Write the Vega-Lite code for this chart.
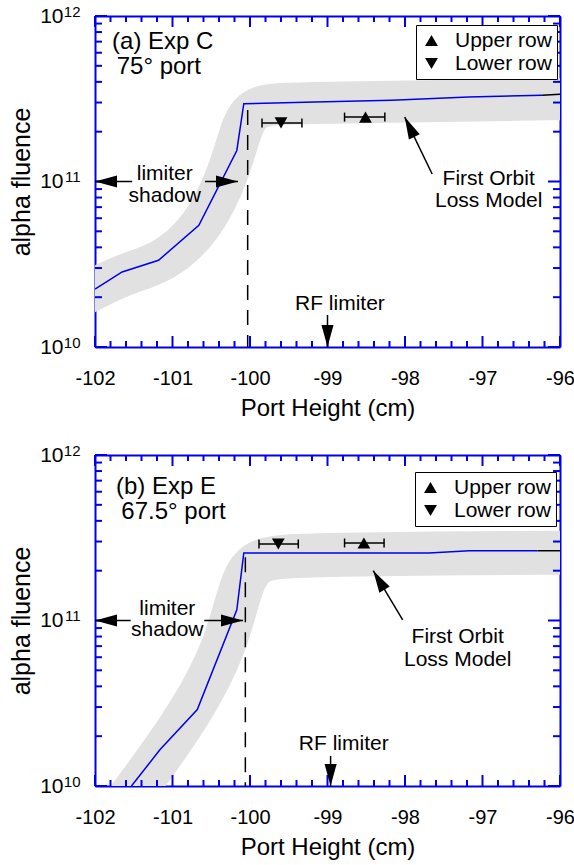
{
  "$schema": "https://vega.github.io/schema/vega-lite/v6.json",
  "padding": {"left": 9, "top": 4, "right": 4, "bottom": 4},
  "bounds": "flush",
  "spacing": 108,
  "resolve": {"scale": {"shape": "independent"}, "legend": {"shape": "independent"}},
  "datasets": {
    "ticks": [
      {"x": -102, "x2": -102, "v": 1e10, "v2": 1.165e10}, {"x": -101, "x2": -101, "v": 1e10, "v2": 1.165e10}, {"x": -100, "x2": -100, "v": 1e10, "v2": 1.165e10}, {"x": -99, "x2": -99, "v": 1e10, "v2": 1.165e10}, {"x": -98, "x2": -98, "v": 1e10, "v2": 1.165e10}, {"x": -97, "x2": -97, "v": 1e10, "v2": 1.165e10}, {"x": -96, "x2": -96, "v": 1e10, "v2": 1.165e10},
      {"x": -101.8, "x2": -101.8, "v": 1e10, "v2": 1.087e10}, {"x": -101.6, "x2": -101.6, "v": 1e10, "v2": 1.087e10}, {"x": -101.4, "x2": -101.4, "v": 1e10, "v2": 1.087e10}, {"x": -101.2, "x2": -101.2, "v": 1e10, "v2": 1.087e10},
      {"x": -100.8, "x2": -100.8, "v": 1e10, "v2": 1.087e10}, {"x": -100.6, "x2": -100.6, "v": 1e10, "v2": 1.087e10}, {"x": -100.4, "x2": -100.4, "v": 1e10, "v2": 1.087e10}, {"x": -100.2, "x2": -100.2, "v": 1e10, "v2": 1.087e10},
      {"x": -99.8, "x2": -99.8, "v": 1e10, "v2": 1.087e10}, {"x": -99.6, "x2": -99.6, "v": 1e10, "v2": 1.087e10}, {"x": -99.4, "x2": -99.4, "v": 1e10, "v2": 1.087e10}, {"x": -99.2, "x2": -99.2, "v": 1e10, "v2": 1.087e10},
      {"x": -98.8, "x2": -98.8, "v": 1e10, "v2": 1.087e10}, {"x": -98.6, "x2": -98.6, "v": 1e10, "v2": 1.087e10}, {"x": -98.4, "x2": -98.4, "v": 1e10, "v2": 1.087e10}, {"x": -98.2, "x2": -98.2, "v": 1e10, "v2": 1.087e10},
      {"x": -97.8, "x2": -97.8, "v": 1e10, "v2": 1.087e10}, {"x": -97.6, "x2": -97.6, "v": 1e10, "v2": 1.087e10}, {"x": -97.4, "x2": -97.4, "v": 1e10, "v2": 1.087e10}, {"x": -97.2, "x2": -97.2, "v": 1e10, "v2": 1.087e10},
      {"x": -96.8, "x2": -96.8, "v": 1e10, "v2": 1.087e10}, {"x": -96.6, "x2": -96.6, "v": 1e10, "v2": 1.087e10}, {"x": -96.4, "x2": -96.4, "v": 1e10, "v2": 1.087e10}, {"x": -96.2, "x2": -96.2, "v": 1e10, "v2": 1.087e10},
      {"x": -102, "x2": -102, "v": 1e12, "v2": 8.58e11}, {"x": -101, "x2": -101, "v": 1e12, "v2": 8.58e11}, {"x": -100, "x2": -100, "v": 1e12, "v2": 8.58e11}, {"x": -99, "x2": -99, "v": 1e12, "v2": 8.58e11}, {"x": -98, "x2": -98, "v": 1e12, "v2": 8.58e11}, {"x": -97, "x2": -97, "v": 1e12, "v2": 8.58e11}, {"x": -96, "x2": -96, "v": 1e12, "v2": 8.58e11},
      {"x": -101.8, "x2": -101.8, "v": 1e12, "v2": 9.2e11}, {"x": -101.6, "x2": -101.6, "v": 1e12, "v2": 9.2e11}, {"x": -101.4, "x2": -101.4, "v": 1e12, "v2": 9.2e11}, {"x": -101.2, "x2": -101.2, "v": 1e12, "v2": 9.2e11},
      {"x": -100.8, "x2": -100.8, "v": 1e12, "v2": 9.2e11}, {"x": -100.6, "x2": -100.6, "v": 1e12, "v2": 9.2e11}, {"x": -100.4, "x2": -100.4, "v": 1e12, "v2": 9.2e11}, {"x": -100.2, "x2": -100.2, "v": 1e12, "v2": 9.2e11},
      {"x": -99.8, "x2": -99.8, "v": 1e12, "v2": 9.2e11}, {"x": -99.6, "x2": -99.6, "v": 1e12, "v2": 9.2e11}, {"x": -99.4, "x2": -99.4, "v": 1e12, "v2": 9.2e11}, {"x": -99.2, "x2": -99.2, "v": 1e12, "v2": 9.2e11},
      {"x": -98.8, "x2": -98.8, "v": 1e12, "v2": 9.2e11}, {"x": -98.6, "x2": -98.6, "v": 1e12, "v2": 9.2e11}, {"x": -98.4, "x2": -98.4, "v": 1e12, "v2": 9.2e11}, {"x": -98.2, "x2": -98.2, "v": 1e12, "v2": 9.2e11},
      {"x": -97.8, "x2": -97.8, "v": 1e12, "v2": 9.2e11}, {"x": -97.6, "x2": -97.6, "v": 1e12, "v2": 9.2e11}, {"x": -97.4, "x2": -97.4, "v": 1e12, "v2": 9.2e11}, {"x": -97.2, "x2": -97.2, "v": 1e12, "v2": 9.2e11},
      {"x": -96.8, "x2": -96.8, "v": 1e12, "v2": 9.2e11}, {"x": -96.6, "x2": -96.6, "v": 1e12, "v2": 9.2e11}, {"x": -96.4, "x2": -96.4, "v": 1e12, "v2": 9.2e11}, {"x": -96.2, "x2": -96.2, "v": 1e12, "v2": 9.2e11},
      {"x": -102, "x2": -101.845, "v": 1e10, "v2": 1e10}, {"x": -102, "x2": -101.845, "v": 1e11, "v2": 1e11}, {"x": -102, "x2": -101.845, "v": 1e12, "v2": 1e12},
      {"x": -102, "x2": -101.91, "v": 2e10, "v2": 2e10}, {"x": -102, "x2": -101.91, "v": 3e10, "v2": 3e10}, {"x": -102, "x2": -101.91, "v": 4e10, "v2": 4e10}, {"x": -102, "x2": -101.91, "v": 5e10, "v2": 5e10},
      {"x": -102, "x2": -101.91, "v": 6e10, "v2": 6e10}, {"x": -102, "x2": -101.91, "v": 7e10, "v2": 7e10}, {"x": -102, "x2": -101.91, "v": 8e10, "v2": 8e10}, {"x": -102, "x2": -101.91, "v": 9e10, "v2": 9e10},
      {"x": -102, "x2": -101.91, "v": 2e11, "v2": 2e11}, {"x": -102, "x2": -101.91, "v": 3e11, "v2": 3e11}, {"x": -102, "x2": -101.91, "v": 4e11, "v2": 4e11}, {"x": -102, "x2": -101.91, "v": 5e11, "v2": 5e11},
      {"x": -102, "x2": -101.91, "v": 6e11, "v2": 6e11}, {"x": -102, "x2": -101.91, "v": 7e11, "v2": 7e11}, {"x": -102, "x2": -101.91, "v": 8e11, "v2": 8e11}, {"x": -102, "x2": -101.91, "v": 9e11, "v2": 9e11},
      {"x": -96, "x2": -96.155, "v": 1e10, "v2": 1e10}, {"x": -96, "x2": -96.155, "v": 1e11, "v2": 1e11}, {"x": -96, "x2": -96.155, "v": 1e12, "v2": 1e12},
      {"x": -96, "x2": -96.09, "v": 2e10, "v2": 2e10}, {"x": -96, "x2": -96.09, "v": 3e10, "v2": 3e10}, {"x": -96, "x2": -96.09, "v": 4e10, "v2": 4e10}, {"x": -96, "x2": -96.09, "v": 5e10, "v2": 5e10},
      {"x": -96, "x2": -96.09, "v": 6e10, "v2": 6e10}, {"x": -96, "x2": -96.09, "v": 7e10, "v2": 7e10}, {"x": -96, "x2": -96.09, "v": 8e10, "v2": 8e10}, {"x": -96, "x2": -96.09, "v": 9e10, "v2": 9e10},
      {"x": -96, "x2": -96.09, "v": 2e11, "v2": 2e11}, {"x": -96, "x2": -96.09, "v": 3e11, "v2": 3e11}, {"x": -96, "x2": -96.09, "v": 4e11, "v2": 4e11}, {"x": -96, "x2": -96.09, "v": 5e11, "v2": 5e11},
      {"x": -96, "x2": -96.09, "v": 6e11, "v2": 6e11}, {"x": -96, "x2": -96.09, "v": 7e11, "v2": 7e11}, {"x": -96, "x2": -96.09, "v": 8e11, "v2": 8e11}, {"x": -96, "x2": -96.09, "v": 9e11, "v2": 9e11}
    ],
    "bandA": [
      {"x": -102.3, "v": 1.9e10}, {"x": -101.65, "v": 2.76e10}, {"x": -101.14, "v": 3.17e10},
      {"x": -100.62, "v": 5.09e10}, {"x": -100.26, "v": 1.14e11}, {"x": -100.10, "v": 2.29e11},
      {"x": -99.91, "v": 2.94e11}, {"x": -99.33, "v": 2.98e11}, {"x": -95.5, "v": 3.17e11}
    ],
    "lineA": [
      {"x": -102.0, "v": 2.24e10}, {"x": -101.65, "v": 2.84e10}, {"x": -101.18, "v": 3.34e10},
      {"x": -100.66, "v": 5.44e10}, {"x": -100.17, "v": 1.54e11}, {"x": -100.08, "v": 2.95e11},
      {"x": -99.16, "v": 3.02e11}, {"x": -98.17, "v": 3.10e11}, {"x": -97.18, "v": 3.24e11},
      {"x": -96.23, "v": 3.32e11}
    ],
    "endA": [{"x": -96.23, "v": 3.32e11}, {"x": -96.0, "v": 3.37e11}],
    "dashA": [{"x": -100.03, "v": 2.7e11, "v2": 1e10}],
    "ptsA": [
      {"row": "Upper row", "x": -98.51, "lo": -98.78, "hi": -98.26, "v": 2.45e11},
      {"row": "Lower row", "x": -99.60, "lo": -99.845, "hi": -99.33, "v": 2.26e11}
    ],
    "labA": [
      {"x": -101.78, "v": 6.31e11, "t": "(a) Exp C"},
      {"x": -101.72, "v": 4.46e11, "t": "75° port"}
    ],
    "annA": [
      {"x": -101.10, "v": 1.02e11, "t": "limiter"},
      {"x": -101.10, "v": 7.52e10, "t": "shadow"},
      {"x": -98.84, "v": 1.67e10, "t": "RF limiter"},
      {"x": -96.92, "v": 9.57e10, "t": "First Orbit"},
      {"x": -96.92, "v": 7.05e10, "t": "Loss Model"}
    ],
    "arrA": [
      {"x": -102.0, "v": 1e11, "x2": -101.52, "v2": 1e11, "ang": 270},
      {"x": -100.155, "v": 1e11, "x2": -100.58, "v2": 1e11, "ang": 90},
      {"x": -99.0, "v": 1e10, "x2": -99.0, "v2": 1.56e10, "ang": 180},
      {"x": -98.004, "v": 2.45e11, "x2": -97.65, "v2": 1.11e11, "ang": 334}
    ],
    "bandB": [
      {"x": -101.8, "v": 6.0e9}, {"x": -101.6, "v": 7.9e9}, {"x": -100.72, "v": 2.89e10},
      {"x": -100.297, "v": 7.36e10}, {"x": -100.13, "v": 1.58e11}, {"x": -99.95, "v": 2.38e11},
      {"x": -99.37, "v": 2.51e11}, {"x": -95.5, "v": 2.58e11}
    ],
    "lineB": [
      {"x": -101.53, "v": 1.0e10}, {"x": -101.16, "v": 1.66e10}, {"x": -100.68, "v": 2.9e10},
      {"x": -100.17, "v": 1.16e11}, {"x": -100.08, "v": 2.56e11}, {"x": -97.69, "v": 2.56e11},
      {"x": -97.17, "v": 2.64e11}, {"x": -96.29, "v": 2.64e11}
    ],
    "endB": [{"x": -96.29, "v": 2.64e11}, {"x": -96.0, "v": 2.64e11}],
    "dashB": [{"x": -100.06, "v": 2.41e11, "v2": 1e10}],
    "ptsB": [
      {"row": "Upper row", "x": -98.53, "lo": -98.78, "hi": -98.27, "v": 2.94e11},
      {"row": "Lower row", "x": -99.635, "lo": -99.884, "hi": -99.377, "v": 2.9e11}
    ],
    "labB": [
      {"x": -101.73, "v": 5.82e11, "t": "(b) Exp E"},
      {"x": -101.66, "v": 4.11e11, "t": "67.5° port"}
    ],
    "annB": [
      {"x": -101.067, "v": 1.08e11, "t": "limiter"},
      {"x": -101.067, "v": 8.07e10, "t": "shadow"},
      {"x": -98.79, "v": 1.66e10, "t": "RF limiter"},
      {"x": -97.32, "v": 7.3e10, "t": "First Orbit"},
      {"x": -97.32, "v": 5.33e10, "t": "Loss Model"}
    ],
    "arrB": [
      {"x": -102.0, "v": 1e11, "x2": -101.54, "v2": 1e11, "ang": 270},
      {"x": -100.09, "v": 1e11, "x2": -100.59, "v2": 1e11, "ang": 90},
      {"x": -98.96, "v": 1e10, "x2": -98.96, "v2": 1.52e10, "ang": 180},
      {"x": -98.41, "v": 2.0e11, "x2": -98.03, "v2": 1.01e11, "ang": 329}
    ]
  },
  "vconcat": [
    {
      "width": 465, "height": 331,
      "resolve": {"axis": {"x": "independent", "y": "independent"}},
      "layer": [
        {"data": {"name": "bandA"},
         "mark": {"type": "line", "interpolate": "basis", "strokeWidth": 42, "color": "#e1e1e1", "clip": true, "strokeJoin": "round"},
         "encoding": {
           "x": {"field": "x", "type": "quantitative", "scale": {"domain": [-102, -96], "nice": false, "zero": false},
                 "axis": {"orient": "bottom", "values": [-102, -101, -100, -99, -98, -97, -96], "labelExpr": "'' + datum.value", "ticks": false, "tickSize": 0, "domain": true, "domainWidth": 2, "labelFontSize": 20, "labelPadding": 21, "title": "Port Height (cm)", "titleFontSize": 24, "titlePadding": 8}},
           "y": {"field": "v", "type": "quantitative", "scale": {"type": "log", "domain": [1e10, 1e12], "nice": false},
                 "axis": {"orient": "left", "values": [1e10, 1e11, 1e12], "labelExpr": "'10'", "ticks": false, "tickSize": 0, "domain": true, "domainWidth": 2, "labelFontSize": 21, "labelPadding": 32, "title": "alpha fluence", "titleFontSize": 25, "titlePadding": 5}}
         }},
        {"data": {"name": "lineA"},
         "mark": {"type": "line", "strokeWidth": 1.5, "color": "#0000ee", "clip": true},
         "encoding": {
           "x": {"field": "x", "type": "quantitative", "scale": {"domain": [-102, -96], "nice": false, "zero": false}, "axis": null},
           "y": {"field": "v", "type": "quantitative", "scale": {"type": "log", "domain": [1e10, 1e12], "nice": false}, "axis": null}
         }},
        {"data": {"name": "endA"},
         "mark": {"type": "line", "strokeWidth": 1.5, "color": "black", "clip": true},
         "encoding": {
           "x": {"field": "x", "type": "quantitative", "scale": {"domain": [-102, -96], "nice": false, "zero": false}, "axis": null},
           "y": {"field": "v", "type": "quantitative", "scale": {"type": "log", "domain": [1e10, 1e12], "nice": false}, "axis": null}
         }},
        {"data": {"name": "ticks"},
         "mark": {"type": "rule", "strokeWidth": 2, "color": "#0000ee"},
         "encoding": {
           "x": {"field": "x", "type": "quantitative", "scale": {"domain": [-102, -96], "nice": false, "zero": false}, "axis": null},
           "x2": {"field": "x2"},
           "y": {"field": "v", "type": "quantitative", "scale": {"type": "log", "domain": [1e10, 1e12], "nice": false}, "axis": null},
           "y2": {"field": "v2"}
         }},
        {"data": {"name": "dashA"},
         "mark": {"type": "rule", "strokeWidth": 1.5, "color": "black", "strokeDash": [15, 10]},
         "encoding": {
           "x": {"field": "x", "type": "quantitative", "scale": {"domain": [-102, -96], "nice": false, "zero": false}, "axis": null},
           "y": {"field": "v", "type": "quantitative", "scale": {"type": "log", "domain": [1e10, 1e12], "nice": false}, "axis": null},
           "y2": {"field": "v2"}
         }},
        {"data": {"name": "ptsA"},
         "mark": {"type": "rule", "strokeWidth": 1.5, "color": "black"},
         "encoding": {
           "x": {"field": "lo", "type": "quantitative", "scale": {"domain": [-102, -96], "nice": false, "zero": false}, "axis": null},
           "x2": {"field": "hi"},
           "y": {"field": "v", "type": "quantitative", "scale": {"type": "log", "domain": [1e10, 1e12], "nice": false}, "axis": null}
         }},
        {"data": {"name": "ptsA"},
         "transform": [{"fold": ["lo", "hi"], "as": ["end", "xe"]}],
         "mark": {"type": "tick", "orient": "vertical", "size": 9, "thickness": 1.5, "color": "black", "opacity": 1},
         "encoding": {
           "x": {"field": "xe", "type": "quantitative", "scale": {"domain": [-102, -96], "nice": false, "zero": false},
                 "axis": {"orient": "top", "values": [-102, -96], "labels": false, "ticks": false, "domain": true, "domainWidth": 2, "title": null}},
           "y": {"field": "v", "type": "quantitative", "scale": {"type": "log", "domain": [1e10, 1e12], "nice": false},
                 "axis": {"orient": "left", "values": [1e10, 1e11, 1e12], "labelExpr": "datum.value >= 1e12 ? '12' : datum.value >= 1e11 ? '11' : '10'", "ticks": false, "tickSize": 0, "domain": false, "labelFontSize": 15, "labelPadding": 15, "labelOffset": -5, "title": null}}
         }},
        {"data": {"name": "ptsA"},
         "mark": {"type": "point", "filled": true, "size": 165, "opacity": 1, "color": "black"},
         "encoding": {
           "x": {"field": "x", "type": "quantitative", "scale": {"domain": [-102, -96], "nice": false, "zero": false}, "axis": null},
           "y": {"field": "v", "type": "quantitative", "scale": {"type": "log", "domain": [1e10, 1e12], "nice": false},
                 "axis": {"orient": "right", "values": [1e10, 1e12], "labels": false, "ticks": false, "domain": true, "domainWidth": 2, "title": null}},
           "shape": {"field": "row", "type": "nominal", "scale": {"domain": ["Upper row", "Lower row"], "range": ["triangle-up", "triangle-down"]},
                     "legend": {"title": null, "orient": "none", "legendX": 321, "legendY": 9}}
         }},
        {"data": {"name": "arrA"},
         "mark": {"type": "rule", "strokeWidth": 1.5, "color": "black"},
         "encoding": {
           "x": {"field": "x", "type": "quantitative", "scale": {"domain": [-102, -96], "nice": false, "zero": false}, "axis": null},
           "y": {"field": "v", "type": "quantitative", "scale": {"type": "log", "domain": [1e10, 1e12], "nice": false}, "axis": null},
           "x2": {"field": "x2"},
           "y2": {"field": "v2"}
         }},
        {"data": {"name": "arrA"},
         "mark": {"type": "point", "filled": true, "opacity": 1, "color": "black", "size": 484, "shape": "M0,0L-0.55,2L0.55,2Z"},
         "encoding": {
           "x": {"field": "x", "type": "quantitative", "scale": {"domain": [-102, -96], "nice": false, "zero": false}, "axis": null},
           "y": {"field": "v", "type": "quantitative", "scale": {"type": "log", "domain": [1e10, 1e12], "nice": false}, "axis": null},
           "angle": {"field": "ang", "type": "quantitative", "scale": null}
         }},
        {"data": {"name": "labA"},
         "mark": {"type": "text", "align": "left", "baseline": "alphabetic", "fontSize": 24, "font": "Liberation Sans", "color": "black"},
         "encoding": {
           "x": {"field": "x", "type": "quantitative", "scale": {"domain": [-102, -96], "nice": false, "zero": false}, "axis": null},
           "y": {"field": "v", "type": "quantitative", "scale": {"type": "log", "domain": [1e10, 1e12], "nice": false}, "axis": null},
           "text": {"field": "t"}
         }},
        {"data": {"name": "annA"},
         "mark": {"type": "text", "align": "center", "baseline": "alphabetic", "fontSize": 21, "font": "Liberation Sans", "color": "black"},
         "encoding": {
           "x": {"field": "x", "type": "quantitative", "scale": {"domain": [-102, -96], "nice": false, "zero": false}, "axis": null},
           "y": {"field": "v", "type": "quantitative", "scale": {"type": "log", "domain": [1e10, 1e12], "nice": false}, "axis": null},
           "text": {"field": "t"}
         }}
      ]
    },
    {
      "width": 465, "height": 331,
      "resolve": {"axis": {"x": "independent", "y": "independent"}},
      "layer": [
        {"data": {"name": "bandB"},
         "mark": {"type": "line", "interpolate": "basis", "strokeWidth": 44, "color": "#e1e1e1", "clip": true, "strokeJoin": "round"},
         "encoding": {
           "x": {"field": "x", "type": "quantitative", "scale": {"domain": [-102, -96], "nice": false, "zero": false},
                 "axis": {"orient": "bottom", "values": [-102, -101, -100, -99, -98, -97, -96], "labelExpr": "'' + datum.value", "ticks": false, "tickSize": 0, "domain": true, "domainWidth": 2, "labelFontSize": 20, "labelPadding": 21, "title": "Port Height (cm)", "titleFontSize": 24, "titlePadding": 8}},
           "y": {"field": "v", "type": "quantitative", "scale": {"type": "log", "domain": [1e10, 1e12], "nice": false},
                 "axis": {"orient": "left", "values": [1e10, 1e11, 1e12], "labelExpr": "'10'", "ticks": false, "tickSize": 0, "domain": true, "domainWidth": 2, "labelFontSize": 21, "labelPadding": 32, "title": "alpha fluence", "titleFontSize": 25, "titlePadding": 5}}
         }},
        {"data": {"name": "lineB"},
         "mark": {"type": "line", "strokeWidth": 1.5, "color": "#0000ee", "clip": true},
         "encoding": {
           "x": {"field": "x", "type": "quantitative", "scale": {"domain": [-102, -96], "nice": false, "zero": false}, "axis": null},
           "y": {"field": "v", "type": "quantitative", "scale": {"type": "log", "domain": [1e10, 1e12], "nice": false}, "axis": null}
         }},
        {"data": {"name": "endB"},
         "mark": {"type": "line", "strokeWidth": 1.5, "color": "black", "clip": true},
         "encoding": {
           "x": {"field": "x", "type": "quantitative", "scale": {"domain": [-102, -96], "nice": false, "zero": false}, "axis": null},
           "y": {"field": "v", "type": "quantitative", "scale": {"type": "log", "domain": [1e10, 1e12], "nice": false}, "axis": null}
         }},
        {"data": {"name": "ticks"},
         "mark": {"type": "rule", "strokeWidth": 2, "color": "#0000ee"},
         "encoding": {
           "x": {"field": "x", "type": "quantitative", "scale": {"domain": [-102, -96], "nice": false, "zero": false}, "axis": null},
           "x2": {"field": "x2"},
           "y": {"field": "v", "type": "quantitative", "scale": {"type": "log", "domain": [1e10, 1e12], "nice": false}, "axis": null},
           "y2": {"field": "v2"}
         }},
        {"data": {"name": "dashB"},
         "mark": {"type": "rule", "strokeWidth": 1.5, "color": "black", "strokeDash": [15, 10]},
         "encoding": {
           "x": {"field": "x", "type": "quantitative", "scale": {"domain": [-102, -96], "nice": false, "zero": false}, "axis": null},
           "y": {"field": "v", "type": "quantitative", "scale": {"type": "log", "domain": [1e10, 1e12], "nice": false}, "axis": null},
           "y2": {"field": "v2"}
         }},
        {"data": {"name": "ptsB"},
         "mark": {"type": "rule", "strokeWidth": 1.5, "color": "black"},
         "encoding": {
           "x": {"field": "lo", "type": "quantitative", "scale": {"domain": [-102, -96], "nice": false, "zero": false}, "axis": null},
           "x2": {"field": "hi"},
           "y": {"field": "v", "type": "quantitative", "scale": {"type": "log", "domain": [1e10, 1e12], "nice": false}, "axis": null}
         }},
        {"data": {"name": "ptsB"},
         "transform": [{"fold": ["lo", "hi"], "as": ["end", "xe"]}],
         "mark": {"type": "tick", "orient": "vertical", "size": 9, "thickness": 1.5, "color": "black", "opacity": 1},
         "encoding": {
           "x": {"field": "xe", "type": "quantitative", "scale": {"domain": [-102, -96], "nice": false, "zero": false},
                 "axis": {"orient": "top", "values": [-102, -96], "labels": false, "ticks": false, "domain": true, "domainWidth": 2, "title": null}},
           "y": {"field": "v", "type": "quantitative", "scale": {"type": "log", "domain": [1e10, 1e12], "nice": false},
                 "axis": {"orient": "left", "values": [1e10, 1e11, 1e12], "labelExpr": "datum.value >= 1e12 ? '12' : datum.value >= 1e11 ? '11' : '10'", "ticks": false, "tickSize": 0, "domain": false, "labelFontSize": 15, "labelPadding": 15, "labelOffset": -5, "title": null}}
         }},
        {"data": {"name": "ptsB"},
         "mark": {"type": "point", "filled": true, "size": 165, "opacity": 1, "color": "black"},
         "encoding": {
           "x": {"field": "x", "type": "quantitative", "scale": {"domain": [-102, -96], "nice": false, "zero": false}, "axis": null},
           "y": {"field": "v", "type": "quantitative", "scale": {"type": "log", "domain": [1e10, 1e12], "nice": false},
                 "axis": {"orient": "right", "values": [1e10, 1e12], "labels": false, "ticks": false, "domain": true, "domainWidth": 2, "title": null}},
           "shape": {"field": "row", "type": "nominal", "scale": {"domain": ["Upper row", "Lower row"], "range": ["triangle-up", "triangle-down"]},
                     "legend": {"title": null, "orient": "none", "legendX": 320, "legendY": 17}}
         }},
        {"data": {"name": "arrB"},
         "mark": {"type": "rule", "strokeWidth": 1.5, "color": "black"},
         "encoding": {
           "x": {"field": "x", "type": "quantitative", "scale": {"domain": [-102, -96], "nice": false, "zero": false}, "axis": null},
           "y": {"field": "v", "type": "quantitative", "scale": {"type": "log", "domain": [1e10, 1e12], "nice": false}, "axis": null},
           "x2": {"field": "x2"},
           "y2": {"field": "v2"}
         }},
        {"data": {"name": "arrB"},
         "mark": {"type": "point", "filled": true, "opacity": 1, "color": "black", "size": 484, "shape": "M0,0L-0.55,2L0.55,2Z"},
         "encoding": {
           "x": {"field": "x", "type": "quantitative", "scale": {"domain": [-102, -96], "nice": false, "zero": false}, "axis": null},
           "y": {"field": "v", "type": "quantitative", "scale": {"type": "log", "domain": [1e10, 1e12], "nice": false}, "axis": null},
           "angle": {"field": "ang", "type": "quantitative", "scale": null}
         }},
        {"data": {"name": "labB"},
         "mark": {"type": "text", "align": "left", "baseline": "alphabetic", "fontSize": 24, "font": "Liberation Sans", "color": "black"},
         "encoding": {
           "x": {"field": "x", "type": "quantitative", "scale": {"domain": [-102, -96], "nice": false, "zero": false}, "axis": null},
           "y": {"field": "v", "type": "quantitative", "scale": {"type": "log", "domain": [1e10, 1e12], "nice": false}, "axis": null},
           "text": {"field": "t"}
         }},
        {"data": {"name": "annB"},
         "mark": {"type": "text", "align": "center", "baseline": "alphabetic", "fontSize": 21, "font": "Liberation Sans", "color": "black"},
         "encoding": {
           "x": {"field": "x", "type": "quantitative", "scale": {"domain": [-102, -96], "nice": false, "zero": false}, "axis": null},
           "y": {"field": "v", "type": "quantitative", "scale": {"type": "log", "domain": [1e10, 1e12], "nice": false}, "axis": null},
           "text": {"field": "t"}
         }}
      ]
    }
  ],
  "config": {
    "view": {"stroke": null},
    "font": "Liberation Sans",
    "axis": {"grid": false, "domainColor": "#0000ee", "tickColor": "#0000ee", "labelColor": "black", "titleColor": "black", "labelFont": "Liberation Sans", "titleFont": "Liberation Sans", "titleFontWeight": "normal", "labelFlush": false, "labelOverlap": false, "zindex": 1},
    "legend": {"strokeColor": "black", "fillColor": "white", "padding": 5, "labelFontSize": 21, "labelFont": "Liberation Sans", "labelColor": "black", "symbolSize": 165, "symbolFillColor": "black", "symbolStrokeWidth": 0, "labelOffset": 13, "rowPadding": 1}
  }
}
